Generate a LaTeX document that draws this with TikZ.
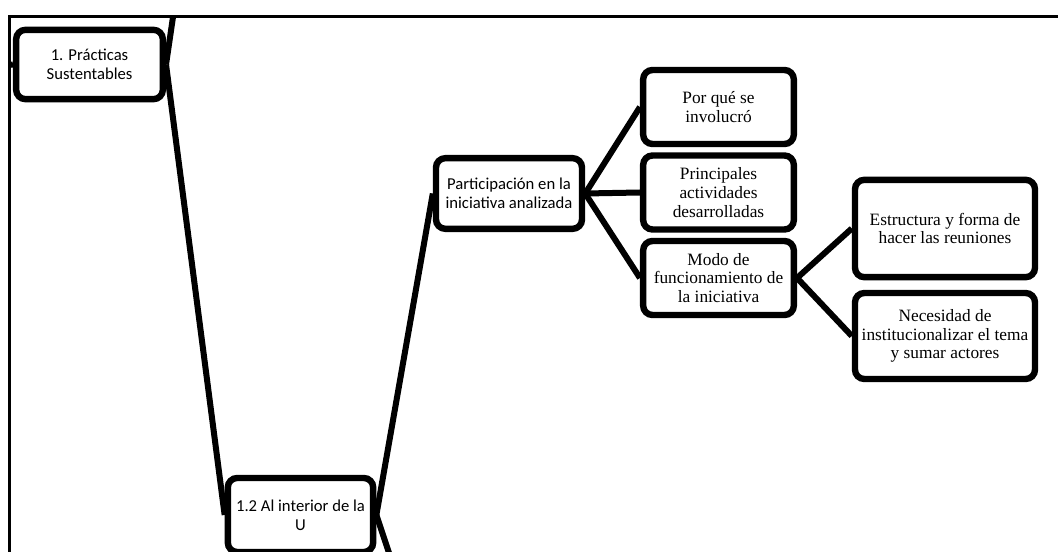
\documentclass[tikz,border=0pt]{standalone}
\usepackage{fontspec}
\setmainfont{Liberation Serif}
\newfontfamily\calfont{Carlito}
\usepackage{xcolor}
\usepackage{tikz}

\tikzset{
  box/.style={draw=black, line width=4.8pt, rounded corners=7pt, fill=white,
    align=center, inner sep=2pt},
  sanstext/.style={font=\calfont\fontsize{12.5}{14}\selectfont},
  seriftext/.style={font=\fontsize{13}{14}\selectfont},
  link/.style={line width=4.5pt}
}

\begin{document}
\begin{tikzpicture}[x=0.75pt, y=-0.75pt]
      \useasboundingbox (0,0) rectangle (1058,552);
      \clip (0,0) rectangle (1058,552);

      % Frame
      \draw[line width=2.25pt] (9,552) -- (9,17) -- (1058,17);

      % Free ends
      \coordinate (topin) at (173,17);
      \coordinate (leftin) at (9,65);
      \coordinate (downout) at (390,556);

      % Nodes
      \node[box, sanstext, minimum width=110pt, minimum height=52pt] (practicas) at (89.5,64.5) {1. Prácticas\\Sustentables};
      \node[box, sanstext, minimum width=109pt, minimum height=55.5pt] (interior) at (300.5,515) {1.2 Al interior de la\\U};
      \node[box, sanstext, minimum width=109.5pt, minimum height=53pt] (participacion) at (509,193.5) {Participación en la\\iniciativa analizada};
      \node[box, seriftext, minimum width=113pt, minimum height=55.5pt] (porque) at (718.5,107) {Por qué se\\involucró};
      \node[box, seriftext, minimum width=113pt, minimum height=55.5pt] (actividades) at (718.5,192.5) {Principales\\actividades\\desarrolladas};
      \node[box, seriftext, minimum width=113pt, minimum height=55.5pt] (modo) at (718.5,278) {Modo de\\funcionamiento de\\la iniciativa};
      \node[box, seriftext, minimum width=135pt, minimum height=73pt] (estructura) at (945,228.5) {Estructura y forma de\\hacer las reuniones};
      \node[box, seriftext, minimum width=135pt, minimum height=64.5pt] (necesidad) at (945,336) {Necesidad de\\institucionalizar el tema\\y sumar actores};

      % Connectors
      \draw[link] (topin) -- (practicas.east);
      \draw[link] (leftin) -- (practicas.west);
      \draw[link] (practicas.east) -- (interior.west);
      \draw[link] (interior.east) -- (participacion.west);
      \draw[link] (interior.east) -- (downout);
      \draw[link] (participacion.east) -- (porque.west);
      \draw[link] (participacion.east) -- (actividades.west);
      \draw[link] (participacion.east) -- (modo.west);
      \draw[link] (modo.east) -- (estructura.west);
      \draw[link] (modo.east) -- (necesidad.west);
    \end{tikzpicture}
\end{document}
